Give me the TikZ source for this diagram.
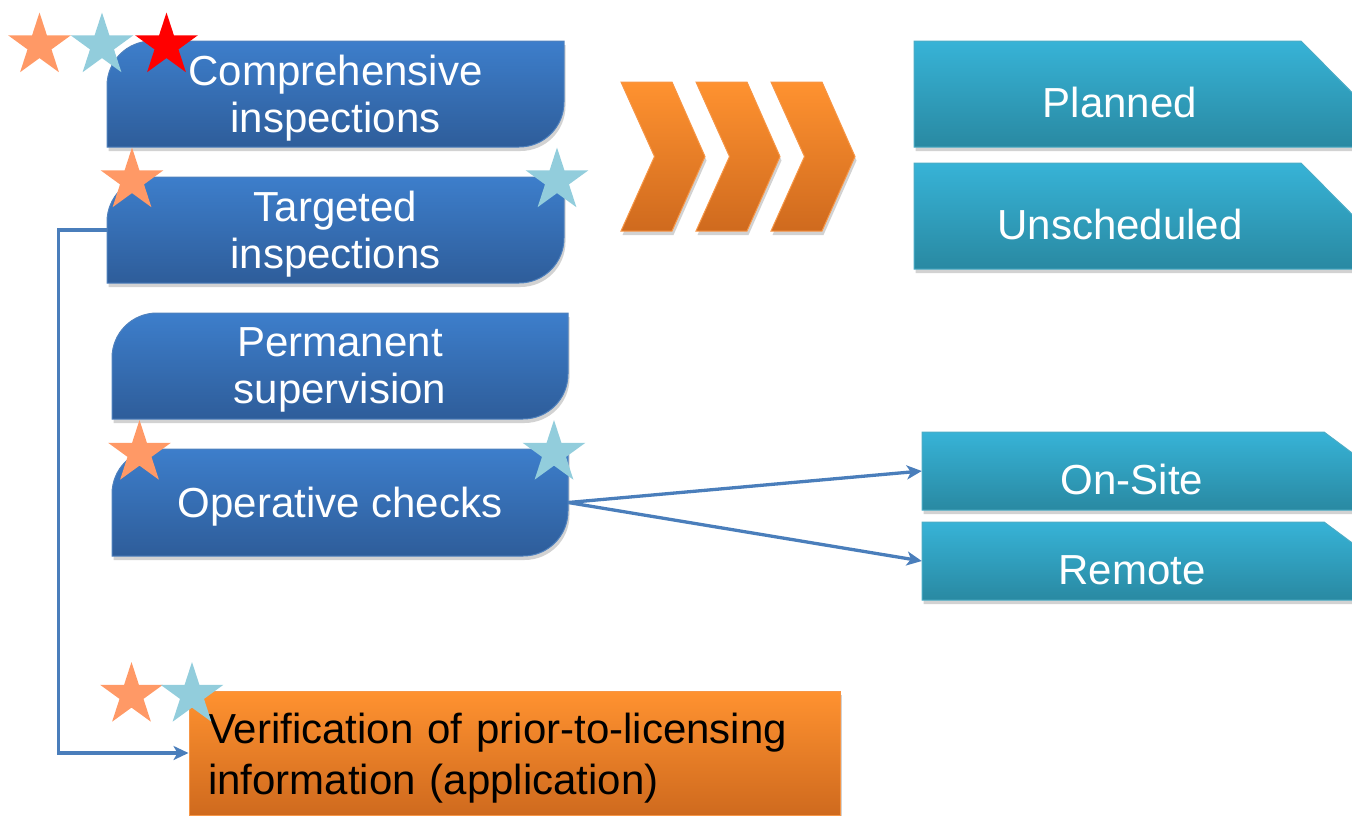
\documentclass[tikz,border=0pt]{standalone}
\usepackage{fontspec}
\setmainfont{Liberation Sans}
\usetikzlibrary{shapes.geometric,arrows.meta,shadows}

\definecolor{tabtop}{RGB}{61,126,203}
\definecolor{tabbot}{RGB}{46,93,154}
\definecolor{tabline}{RGB}{79,129,189}
\definecolor{tealtop}{RGB}{55,179,215}
\definecolor{tealbot}{RGB}{41,137,162}
\definecolor{tealline}{RGB}{75,172,198}
\definecolor{ortop}{RGB}{255,146,48}
\definecolor{orbot}{RGB}{207,106,30}
\definecolor{orline}{RGB}{247,150,70}
\definecolor{starorange}{RGB}{255,153,102}
\definecolor{starblue}{RGB}{146,205,220}
\definecolor{starred}{RGB}{255,0,0}
\definecolor{linkblue}{RGB}{74,126,187}

\newcommand\boxfont{\fontsize{42}{47}\selectfont}

\tikzset{
  softshadow/.style={drop shadow={shadow xshift=1.5pt, shadow yshift=-4pt,
      opacity=0.25, fill=black!70}},
  tabshape/.style={top color=tabtop, bottom color=tabbot, draw=tabline,
      line width=1pt, softshadow},
  tealshape/.style={top color=tealtop, bottom color=tealbot, draw=tealline,
      line width=1pt, softshadow},
  chevshape/.style={top color=ortop, bottom color=orbot, draw=orline,
      line width=1pt, softshadow},
  tabframe/.style={inner sep=0pt, draw=none},
  tabtext/.style={inner sep=0pt, text=white, align=center, font=\boxfont},
  tealtext/.style={inner sep=0pt, text=white, font=\boxfont,
      text height=47pt, text depth=0pt},
  verbox/.style={rectangle, top color=ortop, bottom color=orbot, draw=orline,
      line width=1pt, softshadow, minimum width=651pt, minimum height=124pt,
      text width=613pt, inner xsep=19pt, inner ysep=0pt, align=left,
      font=\fontsize{42}{51}\selectfont, text=black, text height=40pt},
  starshape/.style={star, star points=5, star point ratio=2.618,
      minimum size=66pt, inner sep=0pt, draw=none},
  link/.style={draw=linkblue, line width=3.3pt,
      -{Stealth[length=15pt,width=14pt,inset=4pt]}},
}

% blue tab: name, left, top, right, bottom, text
\newcommand\bluetab[6]{%
  \shade[tabshape] (#2,#5) -- (#2,#3+45)
    .. controls (#2,#3+20) and (#2+20,#3) .. (#2+45,#3)
    -- (#4,#3) -- (#4,#5-45)
    .. controls (#4,#5-20) and (#4-20,#5) .. (#4-45,#5) -- cycle;
  \node[tabframe, minimum width={(#4-#2)*1pt}, minimum height={(#5-#3)*1pt}]
    (#1) at ({(#2+#4)/2},{(#3+#5)/2}) {};
  \node[tabtext] at ([yshift=-4pt]#1.center) {#6};}

% teal tab with a snipped corner: name, left, top, snip start, bottom, text centre, text
\newcommand\tealtab[7]{%
  \shade[tealshape] (#2,#3) -- (#4,#3) -- (#4+105,#5) -- (#2,#5) -- cycle;
  \node[tealtext, minimum width={2*(#6-#2)*1pt}, minimum height={(#5-#3)*1pt}]
    (#1) at (#6,{(#3+#5)/2}) {#7};}

% chevron with its left edge at x = #1
\newcommand\chevron[1]{%
  \shade[chevshape] (#1,82) -- (#1+51,82) -- (#1+84,156.5) -- (#1+51,231)
    -- (#1,231) -- (#1+33.5,156.5) -- cycle;}

\begin{document}
\begin{tikzpicture}[x=1pt, y=-1pt]
  \path[use as bounding box] (0,0) rectangle (1352,815);
  \clip (0,0) rectangle (1352,815);

  % left column of tabs
  \bluetab{comp}{107}{41}{564}{147}{Comprehensive\\inspections}
  \bluetab{tgt}{107}{177}{564}{283}{Targeted\\inspections}
  \bluetab{perm}{112}{313}{568}{419}{Permanent\\supervision}
  \bluetab{ops}{112}{449}{568}{556}{Operative checks}

  % chevrons
  \chevron{621}
  \chevron{696}
  \chevron{771}

  % right column
  \tealtab{plan}{914}{41}{1301}{147}{1120}{Planned}
  \tealtab{unsch}{914}{163}{1301}{269}{1120}{Unscheduled}
  \tealtab{onsite}{922}{432}{1324}{510}{1132}{On-Site}
  \tealtab{remote}{922}{522}{1324}{600}{1132}{Remote}

  % application box
  \node[verbox] (ver) at (514.5,753)
    {Verification of prior-to-licensing\\information (application)};

  % connectors
  \draw[link] (tgt.west) -- ++(-48,0) |- (ver.west);
  \draw[link] (ops.east) -- (onsite.west);
  \draw[link] (ops.east) -- (remote.west);

  % stars
  \node[starshape, fill=starorange] (s1) at (39.5,45.5) {};
  \node[starshape, fill=starblue]   (s2) at (102,45.5) {};
  \node[starshape, fill=starred]    (s3) at (166.5,45.5) {};
  \node[starshape, fill=starorange] (s4) at (132,180.5) {};
  \node[starshape, fill=starblue]   (s5) at (557,180.5) {};
  \node[starshape, fill=starorange] (s6) at (139.5,453) {};
  \node[starshape, fill=starblue]   (s7) at (554,453) {};
  \node[starshape, fill=starorange] (s8) at (131.5,695) {};
  \node[starshape, fill=starblue]   (s9) at (192,695) {};
\end{tikzpicture}
\end{document}
